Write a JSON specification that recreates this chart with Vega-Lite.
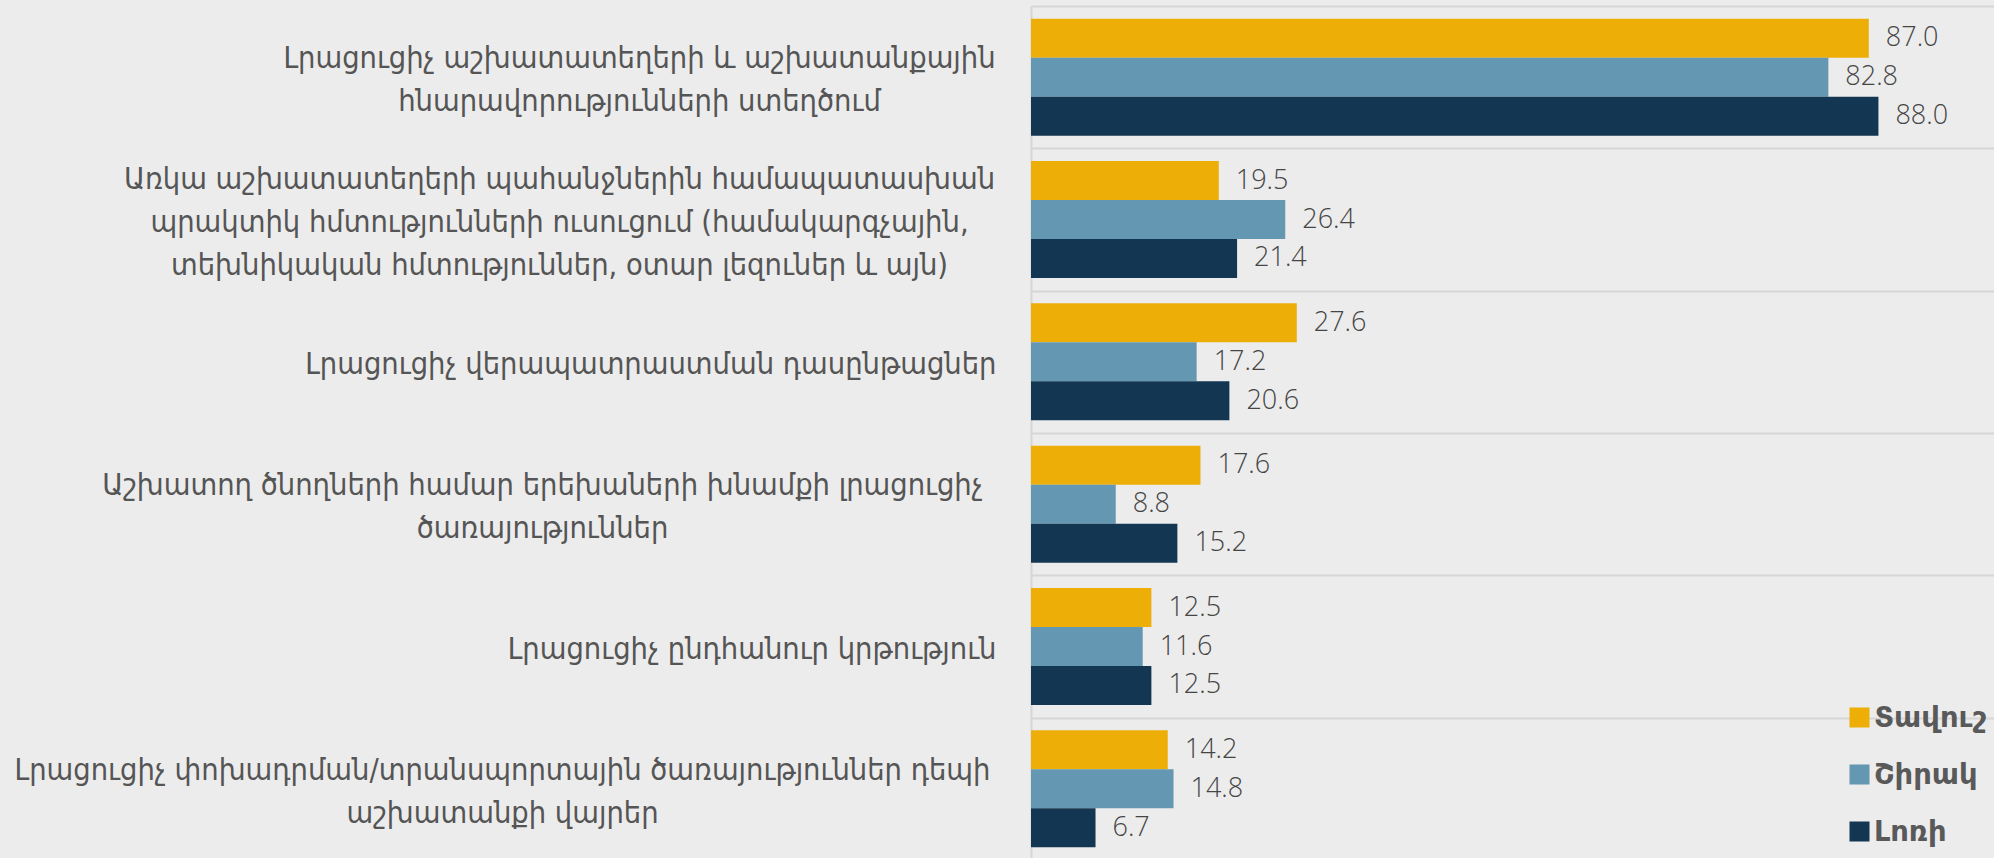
{
  "$schema": "https://vega.github.io/schema/vega-lite/v6.json",
  "autosize": {"type": "none"},
  "padding": {"left": 1031, "top": 6, "right": 0, "bottom": 0},
  "width": 963,
  "height": 854,
  "background": "#ECECEC",
  "config": {"view": {"stroke": null}},
  "data": {
    "values": [
      {"cat": "Լրացուցիչ աշխատատեղերի և աշխատանքային|հնարավորությունների ստեղծում", "series": "Տավուշ", "value": 87.0},
      {"cat": "Լրացուցիչ աշխատատեղերի և աշխատանքային|հնարավորությունների ստեղծում", "series": "Շիրակ", "value": 82.8},
      {"cat": "Լրացուցիչ աշխատատեղերի և աշխատանքային|հնարավորությունների ստեղծում", "series": "Լոռի", "value": 88.0},
      {"cat": "Առկա աշխատատեղերի պահանջներին համապատասխան|պրակտիկ հմտությունների ուսուցում (համակարգչային,|տեխնիկական հմտություններ, օտար լեզուներ և այն)", "series": "Տավուշ", "value": 19.5},
      {"cat": "Առկա աշխատատեղերի պահանջներին համապատասխան|պրակտիկ հմտությունների ուսուցում (համակարգչային,|տեխնիկական հմտություններ, օտար լեզուներ և այն)", "series": "Շիրակ", "value": 26.4},
      {"cat": "Առկա աշխատատեղերի պահանջներին համապատասխան|պրակտիկ հմտությունների ուսուցում (համակարգչային,|տեխնիկական հմտություններ, օտար լեզուներ և այն)", "series": "Լոռի", "value": 21.4},
      {"cat": "Լրացուցիչ վերապատրաստման դասընթացներ", "series": "Տավուշ", "value": 27.6},
      {"cat": "Լրացուցիչ վերապատրաստման դասընթացներ", "series": "Շիրակ", "value": 17.2},
      {"cat": "Լրացուցիչ վերապատրաստման դասընթացներ", "series": "Լոռի", "value": 20.6},
      {"cat": "Աշխատող ծնողների համար երեխաների խնամքի լրացուցիչ|ծառայություններ", "series": "Տավուշ", "value": 17.6},
      {"cat": "Աշխատող ծնողների համար երեխաների խնամքի լրացուցիչ|ծառայություններ", "series": "Շիրակ", "value": 8.8},
      {"cat": "Աշխատող ծնողների համար երեխաների խնամքի լրացուցիչ|ծառայություններ", "series": "Լոռի", "value": 15.2},
      {"cat": "Լրացուցիչ ընդհանուր կրթություն", "series": "Տավուշ", "value": 12.5},
      {"cat": "Լրացուցիչ ընդհանուր կրթություն", "series": "Շիրակ", "value": 11.6},
      {"cat": "Լրացուցիչ ընդհանուր կրթություն", "series": "Լոռի", "value": 12.5},
      {"cat": "Լրացուցիչ փոխադրման/տրանսպորտային ծառայություններ դեպի|աշխատանքի վայրեր", "series": "Տավուշ", "value": 14.2},
      {"cat": "Լրացուցիչ փոխադրման/տրանսպորտային ծառայություններ դեպի|աշխատանքի վայրեր", "series": "Շիրակ", "value": 14.8},
      {"cat": "Լրացուցիչ փոխադրման/տրանսպորտային ծառայություններ դեպի|աշխատանքի վայրեր", "series": "Լոռի", "value": 6.7}
    ]
  },
  "encoding": {
    "y": {
      "field": "cat", "type": "nominal", "sort": null,
      "scale": {"paddingInner": 0, "paddingOuter": 0},
      "axis": {
        "title": null,
        "labelExpr": "split(datum.label, '|')",
        "labelFont": "DejaVu Sans Condensed",
        "labelFontSize": 30.5,
        "labelColor": "#555555",
        "labelLineHeight": 43,
        "labelAlign": {
          "condition": {"test": "isString(datum.value) && indexof(datum.value, '|') >= 0", "value": "center"},
          "value": "right"
        },
        "labelPadding": {
          "condition": [
            {"test": "isString(datum.value) && indexof(datum.value, 'ստեղծում') >= 0", "value": 392},
            {"test": "isString(datum.value) && indexof(datum.value, 'այն)') >= 0", "value": 472},
            {"test": "isString(datum.value) && indexof(datum.value, 'երեխաների') >= 0", "value": 489},
            {"test": "isString(datum.value) && indexof(datum.value, 'վայրեր') >= 0", "value": 529}
          ],
          "value": 35
        },
        "labelOffset": {
          "condition": [
            {"test": "isString(datum.value) && indexof(datum.value, 'այն)') >= 0", "value": -40},
            {"test": "isString(datum.value) && indexof(datum.value, '|') >= 0", "value": -18.5}
          ],
          "value": 3
        },
        "labelLimit": 0,
        "ticks": false,
        "tickBand": "extent",
        "grid": true,
        "gridColor": "#D6D6D6",
        "gridWidth": 2,
        "domainColor": "#D6D6D6",
        "domainWidth": 2
      }
    },
    "yOffset": {
      "field": "series", "type": "nominal",
      "sort": ["Տավուշ", "Շիրակ", "Լոռի"],
      "scale": {"paddingInner": 0, "paddingOuter": 0.325}
    },
    "x": {
      "field": "value", "type": "quantitative",
      "scale": {"domain": [0, 100]},
      "axis": null
    }
  },
  "layer": [
    {
      "mark": {"type": "bar"},
      "encoding": {
        "color": {
          "field": "series", "type": "nominal",
          "scale": {"domain": ["Տավուշ", "Շիրակ", "Լոռի"], "range": ["#EDAE08", "#6497B1", "#133752"]},
          "legend": {
            "title": null,
            "orient": "none",
            "legendX": 814,
            "legendY": 697,
            "padding": 0,
            "symbolType": "square",
            "symbolSize": 400,
            "symbolStrokeWidth": 0,
            "labelFont": "DejaVu Sans",
            "labelFontWeight": "bold",
            "labelFontSize": 29,
            "labelColor": "#595959",
            "labelOffset": 0,
            "rowPadding": 27
          }
        }
      }
    },
    {
      "mark": {"type": "text", "align": "left", "baseline": "middle", "dx": 17, "font": "Open Sans", "fontWeight": 300, "fontSize": 27, "color": "#454545"},
      "encoding": {
        "text": {"field": "value", "type": "quantitative", "format": ".1f"}
      }
    }
  ]
}
